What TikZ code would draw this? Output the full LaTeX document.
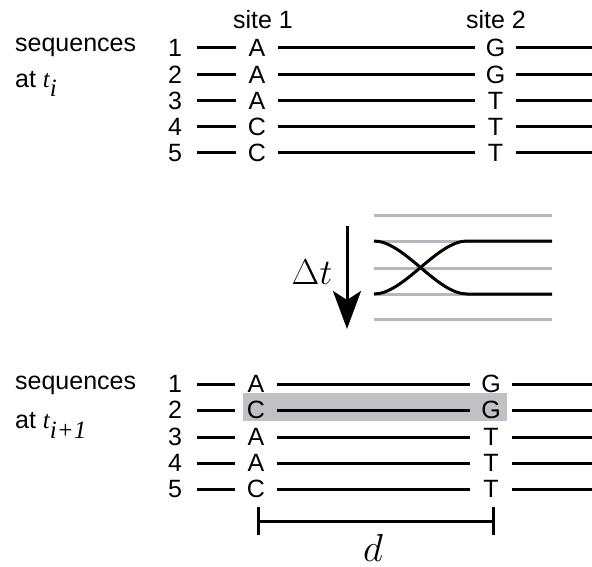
\documentclass[tikz,border=0pt]{standalone}
\usepackage{fix-cm}
\usepackage{fontspec}
\setmainfont{Liberation Sans}
\newfontfamily\tfont{Liberation Serif}
\usetikzlibrary{arrows.meta}
\definecolor{hl}{RGB}{192,193,196}
\definecolor{gl}{RGB}{182,183,186}
\begin{document}
\begin{tikzpicture}[x=1pt,y=-1pt,
  txt/.style={font=\fontsize{25}{29}\selectfont, inner sep=0pt},
  num/.style={txt, minimum width=44pt},
  base/.style={txt, minimum width=41pt},
  seq/.style={line width=3pt, black},
  glin/.style={line width=3pt, gl}]
\useasboundingbox (0,0) rectangle (592,567);
% top block
\node[txt] (site1) at (263,19.5) {site 1};
\node[txt] (site2) at (496,19.5) {site 2};
\node[txt, anchor=west] (seqA) at (15,47) {sequences};
\node[txt, anchor=base west] (atA) at (15,88) {at {\tfont\itshape t\raisebox{-9pt}{i}}};
\foreach \i/\y/\a/\b in {1/48/A/G,2/74.5/A/G,3/101/A/T,4/127/C/T,5/153/C/T} {
  \node[num] (tn\i) at (175,\y) {\i};
  \node[base] (ta\i) at (257,\y) {\a};
  \node[base] (tb\i) at (495.5,\y) {\b};
  \coordinate (te\i) at (592,\y);
  \draw[seq] (tn\i.east) -- (ta\i.west) (ta\i.east) -- (tb\i.west) (tb\i.east) -- (te\i);
}
% middle
\foreach \j/\y in {1/215.5,2/241,3/268,4/294,5/319.5} {
  \coordinate (gl\j) at (374,\y);
  \coordinate (gr\j) at (552,\y);
  \draw[glin] (gl\j) -- (gr\j);
}
\draw[seq] (gl2) .. controls (404,241) and (437,294) .. (467,294) -- (gr4);
\draw[seq] (gl4) .. controls (404,294) and (437,241) .. (467,241) -- (gr2);
\coordinate (ar1) at (347,226);
\coordinate (ar2) at (347,329);
\draw[line width=3pt, -{Stealth[length=38pt,width=28pt,inset=9pt]}] (ar1) -- (ar2);
\node[font=\fontsize{36}{40}\selectfont, inner sep=0pt] (dt) at (312,272) {$\Delta t$};
% bottom block
\fill[hl] (243,393) rectangle (507,421);
\node[txt, anchor=west] (seqB) at (15,385) {sequences};
\node[txt, anchor=base west] (atB) at (15,428) {at {\tfont\itshape t\raisebox{-10pt}{i+1}}};
\foreach \i/\y/\a/\b in {1/384/A/G,2/410/C/G,3/437/A/T,4/463/A/T,5/489/C/T} {
  \node[num] (bn\i) at (175,\y) {\i};
  \node[base] (ba\i) at (256,\y) {\a};
  \node[base] (bb\i) at (491,\y) {\b};
  \coordinate (be\i) at (592,\y);
  \draw[seq] (bn\i.east) -- (ba\i.west) (ba\i.east) -- (bb\i.west) (bb\i.east) -- (be\i);
}
\coordinate (d1) at (258,521);
\coordinate (d2) at (493,521);
\draw[seq] (d1) -- (d2);
\draw[seq] ([yshift=-14pt]d1) -- ([yshift=14pt]d1);
\draw[seq] ([yshift=-14pt]d2) -- ([yshift=14pt]d2);
\node[font=\fontsize{39}{44}\selectfont, inner sep=0pt] (dl) at (373,548) {$d$};
\end{tikzpicture}
\end{document}
